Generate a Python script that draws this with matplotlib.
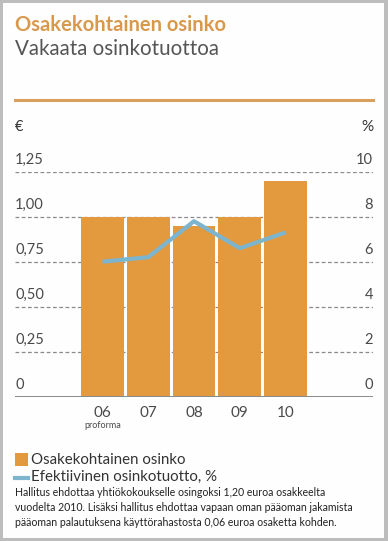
import matplotlib
matplotlib.use('Agg')
import matplotlib.pyplot as plt
from matplotlib.patches import Rectangle
from matplotlib.lines import Line2D

plt.rcParams['font.family'] = ['Lato', 'DejaVu Sans']

# data
years = ['06', '07', '08', '09', '10']
dividend = [1.00, 1.00, 0.95, 1.00, 1.20]          # EUR per share
dividend_yield = [6.0, 6.2, 7.8, 6.6, 7.3]          # %
left_ticks = [0, 0.25, 0.50, 0.75, 1.00, 1.25]
left_labels = ['0', '0,25', '0,50', '0,75', '1,00', '1,25']
right_ticks = [0, 2, 4, 6, 8, 10]
right_labels = ['0', '2', '4', '6', '8', '10']

W, H = 388, 541
ORANGE = '#E3993E'
BLUE = '#7DB4CE'
GRID = '#8a8a8a'
TXT = '#4a4a4a'


def fx(x):
    return x / W


def fy(y):
    return 1 - y / H


fig = plt.figure(figsize=(W / 100, H / 100), dpi=100)
fig.patch.set_facecolor('#bdbdbd')
fig.patches.append(Rectangle((fx(3), fy(538)), fx(381), 535 / H,
                             transform=fig.transFigure, facecolor='#fefefe',
                             edgecolor='none', zorder=-5))

# titles
fig.text(fx(15), fy(25), 'Osakekohtainen osinko', color='#D9994C',
         fontsize=14.5, fontweight='bold', va='center', ha='left')
fig.text(fx(15), fy(49), 'Vakaata osinkotuottoa', color='#555555',
         fontsize=14.8, va='center', ha='left')
fig.add_artist(Line2D([fx(15), fx(373)], [fy(100), fy(100)],
                      transform=fig.transFigure, color='#D9A05B', lw=2.2))
fig.text(fx(15), fy(127), '€', color='#333333', fontsize=10.5, va='center')
fig.text(fx(373), fy(127), '%', color='#333333', fontsize=11, va='center', ha='right')

# chart axes
ax = fig.add_axes([fx(15), fy(396.7), fx(358), (396.7 - 171.7) / H])
ax.set_facecolor('none')
x = list(range(len(years)))
ax.bar(x, dividend, width=0.935, color=ORANGE, zorder=2)
ax.set_xlim(-1.91, 5.91)
ax.set_ylim(0, 1.25)
for t in left_ticks[1:]:
    ax.axhline(t, color=GRID, lw=0.9, ls=(0, (3, 2)), zorder=1)
ax.axhline(0, color=GRID, lw=1.4, zorder=3)
for s in ax.spines.values():
    s.set_visible(False)
ax.set_xticks([])
ax.set_yticks([])

for t, lab in zip(left_ticks, left_labels):
    ax.annotate(lab, (0, t), xycoords=('axes fraction', 'data'),
                xytext=(0, 5), textcoords='offset pixels', ha='left',
                va='bottom', fontsize=10.5, color=TXT)

ax2 = ax.twinx()
ax2.set_ylim(0, 10)
ax2.plot(x, dividend_yield, color=BLUE, lw=3, solid_capstyle='butt', zorder=4)
for s in ax2.spines.values():
    s.set_visible(False)
ax2.set_yticks([])
for t, lab in zip(right_ticks, right_labels):
    ax2.annotate(lab, (1, t), xycoords=('axes fraction', 'data'),
                 xytext=(0, 5), textcoords='offset pixels', ha='right',
                 va='bottom', fontsize=10.5, color=TXT)

for i, y in enumerate(years):
    ax.annotate(y, (i, 0), xycoords='data', xytext=(0, -16),
                textcoords='offset pixels', ha='center', va='center',
                fontsize=11, color=TXT)
ax.annotate('proforma', (0, 0), xycoords='data', xytext=(0, -29),
            textcoords='offset pixels', ha='center', va='center',
            fontsize=6.5, color=TXT)

# legend
fig.patches.append(Rectangle((fx(15), fy(466)), fx(13), 13 / H,
                             transform=fig.transFigure, facecolor=ORANGE,
                             edgecolor='none', zorder=2))
fig.add_artist(Line2D([fx(15), fx(28)], [fy(477.5), fy(477.5)],
                      transform=fig.transFigure, color=BLUE, lw=3))
fig.text(fx(31), fy(459.5), 'Osakekohtainen osinko', color='#333333',
         fontsize=10.8, va='center')
fig.text(fx(31), fy(477), 'Efektiivinen osinkotuotto, %', color='#333333',
         fontsize=10.8, va='center')

note = ['Hallitus ehdottaa yhtiökokoukselle osingoksi 1,20 euroa osakkeelta',
        'vuodelta 2010. Lisäksi hallitus ehdottaa vapaan oman pääoman jakamista',
        'pääoman palautuksena käyttörahastosta 0,06 euroa osaketta kohden.']
for k, line in enumerate(note):
    fig.text(fx(15), fy(493 + 14.5 * k), line, color='#222222',
             fontsize=7.6, va='center')

fig.savefig('out.png', dpi=100, facecolor=fig.get_facecolor())
